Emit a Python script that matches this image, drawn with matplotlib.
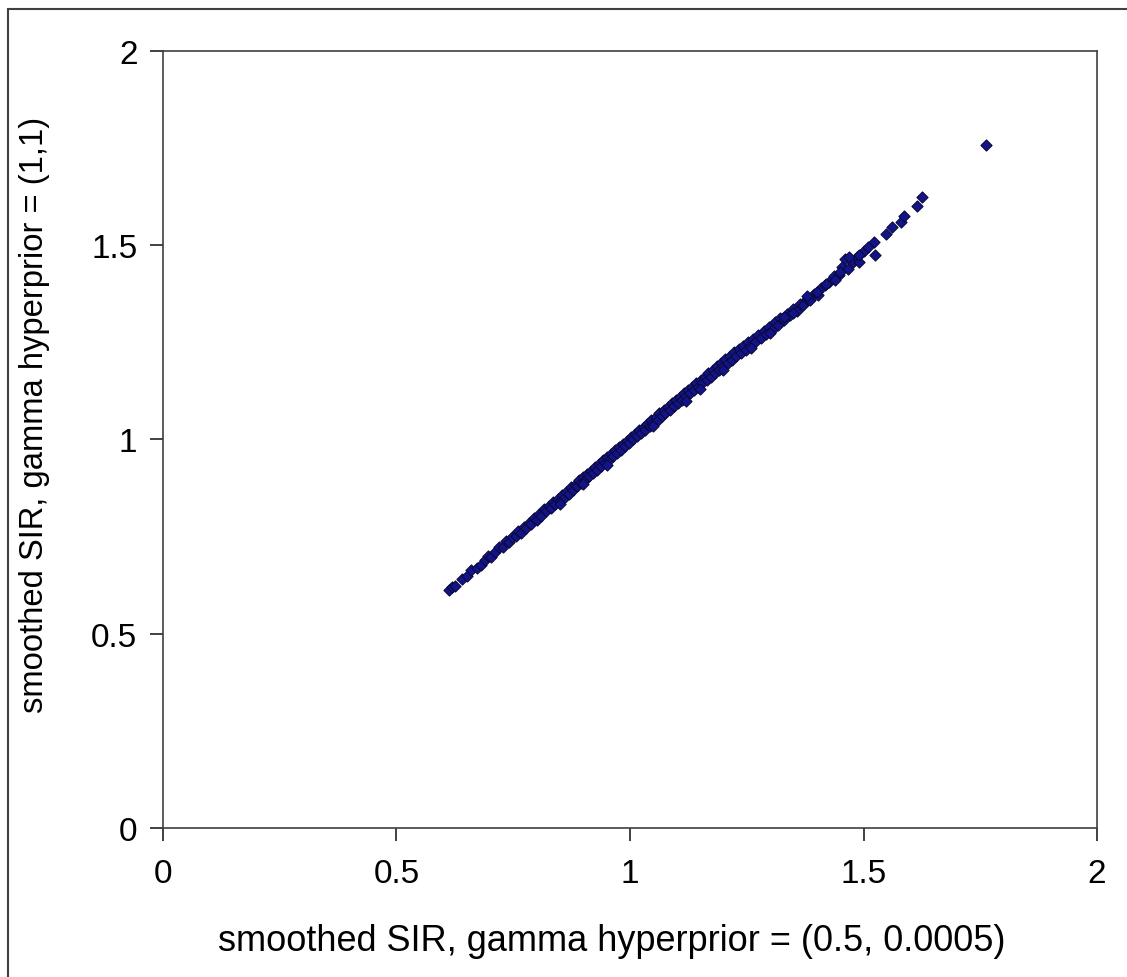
import matplotlib
matplotlib.use('Agg')
import matplotlib.pyplot as plt
from matplotlib.patches import Rectangle

plt.rcParams['font.family'] = ['Liberation Sans', 'DejaVu Sans']

# smoothed SIR values
sir_x = [0.612, 0.618, 0.625, 0.640, 0.652, 0.660, 0.672, 0.681, 0.690, 0.695,
         0.703, 0.712, 0.720, 0.728, 0.735, 0.741, 0.748, 0.755, 0.760, 0.766,
         0.772, 0.778, 0.783, 0.789, 0.795, 0.800, 0.806, 0.810, 0.816, 0.821,
         0.826, 0.830, 0.835, 0.840, 0.845, 0.850, 0.855, 0.860, 0.864, 0.869,
         0.873, 0.878, 0.882, 0.887, 0.891, 0.895, 0.900, 0.904, 0.908, 0.913,
         0.917, 0.921, 0.926, 0.930, 0.934, 0.938, 0.943, 0.947, 0.951, 0.955,
         0.960, 0.964, 0.968, 0.972, 0.977, 0.981, 0.985, 0.990, 0.994, 0.998,
         1.003, 1.007, 1.011, 1.016, 1.020, 1.024, 1.029, 1.033, 1.037, 1.042,
         1.046, 1.050, 1.055, 1.059, 1.063, 1.068, 1.072, 1.076, 1.081, 1.085,
         1.090, 1.094, 1.098, 1.103, 1.107, 1.111, 1.116, 1.120, 1.124, 1.129,
         1.133, 1.138, 1.142, 1.146, 1.151, 1.155, 1.160, 1.164, 1.168, 1.173,
         1.177, 1.182, 1.186, 1.191, 1.195, 1.200, 1.204, 1.209, 1.214, 1.218,
         1.223, 1.228, 1.233, 1.238, 1.243, 1.248, 1.253, 1.258, 1.263, 1.268,
         1.274, 1.280, 1.286, 1.292, 1.298, 1.304, 1.310, 1.316, 1.322, 1.329,
         1.336, 1.343, 1.350, 1.357, 1.364, 1.371, 1.378, 1.386, 1.394, 1.402,
         1.410, 1.418, 1.426, 1.436, 1.447, 1.455, 1.466, 1.478, 1.486, 1.491,
         1.502, 1.523, 1.525, 1.548, 1.561, 1.580, 1.587, 1.615, 1.626, 1.763,
         0.850, 0.900, 0.950, 1.050, 1.120, 1.150, 1.200, 1.260, 1.300, 1.330,
         1.350, 1.380, 1.400, 1.420, 1.440, 1.450, 1.460, 1.470, 1.490, 1.510]
sir_y = [0.612, 0.620, 0.622, 0.640, 0.648, 0.663, 0.670, 0.676, 0.690, 0.700,
         0.697, 0.710, 0.722, 0.724, 0.738, 0.735, 0.750, 0.752, 0.765, 0.760,
         0.775, 0.772, 0.786, 0.782, 0.798, 0.793, 0.808, 0.803, 0.820, 0.815,
         0.828, 0.823, 0.840, 0.834, 0.846, 0.842, 0.858, 0.852, 0.866, 0.860,
         0.877, 0.870, 0.884, 0.879, 0.895, 0.888, 0.903, 0.896, 0.912, 0.905,
         0.920, 0.914, 0.930, 0.922, 0.938, 0.931, 0.946, 0.940, 0.955, 0.948,
         0.963, 0.957, 0.972, 0.965, 0.980, 0.974, 0.989, 0.983, 0.997, 0.991,
         1.006, 1.000, 1.015, 1.008, 1.024, 1.017, 1.032, 1.025, 1.041, 1.034,
         1.050, 1.042, 1.058, 1.051, 1.067, 1.060, 1.075, 1.068, 1.084, 1.077,
         1.093, 1.085, 1.101, 1.094, 1.110, 1.102, 1.119, 1.111, 1.127, 1.119,
         1.136, 1.128, 1.145, 1.136, 1.153, 1.145, 1.162, 1.154, 1.171, 1.162,
         1.180, 1.171, 1.188, 1.180, 1.197, 1.188, 1.206, 1.197, 1.215, 1.205,
         1.224, 1.214, 1.232, 1.222, 1.241, 1.231, 1.250, 1.240, 1.258, 1.250,
         1.268, 1.262, 1.280, 1.272, 1.290, 1.283, 1.302, 1.295, 1.312, 1.308,
         1.322, 1.320, 1.336, 1.332, 1.350, 1.345, 1.362, 1.360, 1.375, 1.372,
         1.390, 1.398, 1.405, 1.420, 1.423, 1.445, 1.440, 1.458, 1.470, 1.457,
         1.485, 1.508, 1.475, 1.530, 1.547, 1.560, 1.575, 1.601, 1.624, 1.757,
         0.835, 0.885, 0.935, 1.035, 1.100, 1.130, 1.180, 1.235, 1.275, 1.315,
         1.325, 1.370, 1.380, 1.400, 1.410, 1.430, 1.465, 1.470, 1.475, 1.495]

ticks = [0, 0.5, 1, 1.5, 2]
tickLabels = ['0', '0.5', '1', '1.5', '2']

fig = plt.figure(figsize=(11.27, 9.78), dpi=100)
ax = fig.add_axes([0.1446, 0.1524, 0.8288, 0.7944])

ax.scatter(sir_x, sir_y, marker='D', s=32, facecolor='#14148a',
           edgecolor='#0a0a3c', linewidth=0.8, zorder=3)

ax.set_xlim(0, 2)
ax.set_ylim(0, 2)
ax.set_xticks(ticks)
ax.set_xticklabels(tickLabels)
ax.set_yticks(ticks)
ax.set_yticklabels(tickLabels)

for s in ax.spines.values():
    s.set_color('#404040')
    s.set_linewidth(1.2)

ax.tick_params(direction='out', length=9.4, width=1.2, color='#202020',
               labelsize=24, pad=9)
ax.tick_params(axis='x', pad=12)

ax.set_xlabel('smoothed SIR, gamma hyperprior = (0.5, 0.0005)', fontsize=26)
ax.set_ylabel('smoothed SIR, gamma hyperprior = (1,1)', fontsize=23.6)
ax.xaxis.label.set_va('center')
ax.yaxis.label.set_va('center')
ax.xaxis.set_label_coords(0.481, -0.145)
ax.yaxis.set_label_coords(-0.137, 0.533)

# outer chart border
fig.patches.append(Rectangle((8 / 1127, -0.02), 1.0, 1.02 - 10 / 978,
                             transform=fig.transFigure, fill=False,
                             edgecolor='#404040', linewidth=1.5))

fig.savefig('out.png', dpi=100)
